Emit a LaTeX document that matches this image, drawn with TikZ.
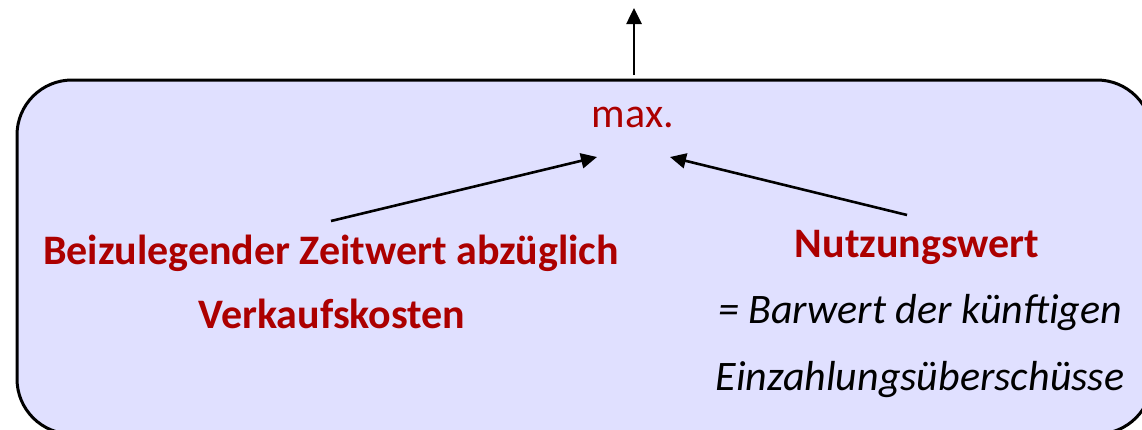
\documentclass[tikz,border=0pt]{standalone}
\usepackage{fontspec}
\setmainfont{Carlito}
\usetikzlibrary{arrows.meta}
\definecolor{boxfill}{RGB}{224,224,255}
\definecolor{darkred}{RGB}{172,0,0}
\tikzset{
  panel/.style={draw=black, line width=3pt, fill=boxfill, rounded corners=55pt},
  flow/.style={line width=2.6pt, -{Triangle[length=16pt,width=15pt]}},
  headline/.style={anchor=base, inner sep=0pt, text=darkred, font=\fontsize{42}{50}\selectfont\bfseries},
  maxlabel/.style={anchor=base, inner sep=0pt, text=darkred, font=\fontsize{42}{50}\selectfont},
  note/.style={anchor=base, inner sep=0pt, text=black, font=\fontsize{42}{50}\selectfont\itshape}
}
\begin{document}
\begin{tikzpicture}[x=1pt, y=-1pt]
  \useasboundingbox (0,0) rectangle (1142,429);
  \clip (0,0) rectangle (1142,429);
  % the framed panel, running past the right and bottom edges
  \draw[panel] (17,80) rectangle (1152,434);

  % texts
  \node[maxlabel] (max) at (633,127) {max.};
  \node[headline] (fv1) at (331,264) {Beizulegender Zeitwert abzüglich};
  \node[headline] (fv2) at (332,328) {Verkaufskosten};
  \node[headline] (vu) at (917,257) {Nutzungswert};
  \node[note] (vu1) at (920,323) {= Barwert der künftigen};
  \node[note] (vu2) at (920,390) {Einzahlungsüberschüsse};

  % arrow ends
  \coordinate (top) at (634,8);
  \coordinate (topbase) at (634,75);
  \coordinate (lstart) at (331,221);
  \coordinate (ltip) at (597,157);
  \coordinate (rstart) at (907,215);
  \coordinate (rtip) at (670,157);

  \draw[flow] (topbase) -- (top);
  \draw[flow] (lstart) -- (ltip);
  \draw[flow] (rstart) -- (rtip);
\end{tikzpicture}
\end{document}
